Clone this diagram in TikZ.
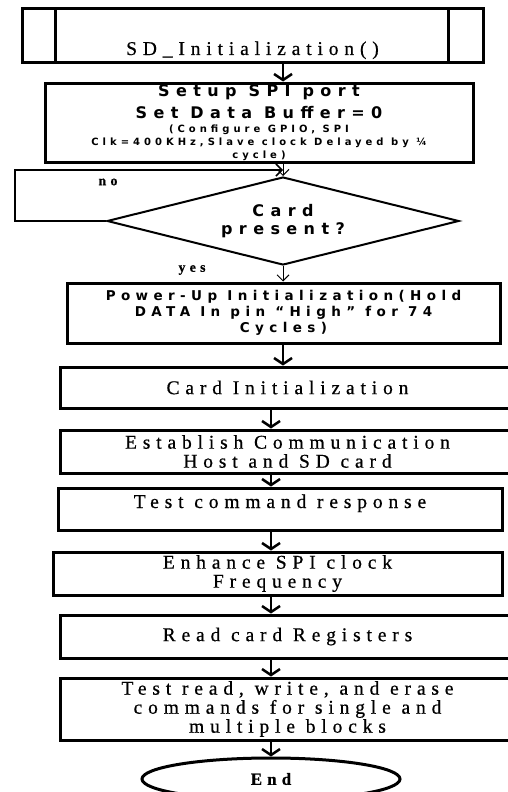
\documentclass[tikz,border=0pt]{standalone}
\usepackage{fontspec}
\setmainfont{Liberation Serif}
\newfontfamily\boxsans[LetterSpace=40]{DejaVu Sans}
\newfontfamily\boxserif[LetterSpace=30,FakeBold=0.6]{Liberation Serif}
\newcommand\finesans{\boxsans\bfseries\fontsize{10}{12}\selectfont}
\newcommand\bigsans{\boxsans\bfseries\fontsize{16}{16}\selectfont}
\usetikzlibrary{shapes.geometric,arrows.meta,calc}

\begin{document}
\begin{tikzpicture}[x=1pt,y=-1pt,
    box/.style={rectangle,draw,line width=3pt,inner sep=0pt,align=center},
    serifbox/.style={box,font=\boxserif\fontsize{19.5}{19}\selectfont},
    sansbox/.style={box,font=\boxsans\bfseries\fontsize{13.5}{16}\selectfont},
    lbl/.style={font=\boxserif\bfseries\fontsize{14}{16}\selectfont},
    bigarrow/.style={line width=2.5pt,-{Straight Barb[length=6pt,width=18pt]}},
    thinarrow/.style={line width=1pt,-{Straight Barb[length=6pt,width=12pt]}}]

  \useasboundingbox (0,0) rectangle (507,792);

  % start block with double side bars
  \node[serifbox,minimum width=461pt,minimum height=54pt,text height=38pt,text depth=0pt] (start) at (252.5,36) {SD\_Initialization()};
  \draw[line width=3pt] ($(start.north west)+(35,0)$) -- ($(start.south west)+(35,0)$);
  \draw[line width=3pt] ($(start.north east)+(-36,0)$) -- ($(start.south east)+(-36,0)$);

  \node[sansbox,minimum width=428pt,minimum height=79pt] (setup) at (259,122.5)
    {{\bigsans Setup SPI port}\\[6pt]{\bigsans Set Data Buffer=0}\\[-2pt]{\finesans (Configure GPIO, SPI}\\[-3pt]{\finesans Clk=400KHz,Slave clock Delayed by ¼}\\[-3pt]{\finesans cycle)}};

  \node[diamond,aspect=4,draw,line width=2pt,minimum width=352pt,minimum height=88pt,inner sep=0pt,align=center,
    font=\boxsans\bfseries\fontsize{16}{18}\selectfont] (card) at (283,221) {Card\\present?};

  \node[sansbox,minimum width=433pt,minimum height=60pt] (power) at (283.5,313)
    {Power-Up Initialization(Hold\\DATA In pin “High” for 74\\Cycles)};

  \node[serifbox,minimum width=455pt,minimum height=41pt] (cardinit) at (287.5,387.5) {Card Initialization};
  \node[serifbox,minimum width=455pt,minimum height=43pt] (comm) at (287.5,451.5) {Establish Communication\\Host and SD card};
  \node[serifbox,minimum width=444pt,minimum height=42pt,text height=13pt,text depth=15pt] (cmdtest) at (280,509) {Test command response};
  \node[serifbox,minimum width=449pt,minimum height=43pt] (clock) at (277.5,573.5) {Enhance SPI clock\\Frequency};
  \node[serifbox,minimum width=455pt,minimum height=43pt] (regs) at (287.5,636.5) {Read card Registers};
  \node[serifbox,minimum width=455pt,minimum height=62pt] (rwtest) at (287.5,709)
    {Test read, write, and erase\\commands for single and\\multiple blocks};
  \node[ellipse,draw,line width=3pt,minimum width=258pt,minimum height=42pt,
    font=\boxserif\bfseries\fontsize{17}{18}\selectfont] (stop) at (271,779) {End};

  % labels of the decision
  \node[lbl] (no) at (108,182) {no};
  \node[lbl] (yes) at (192,270) {yes};
  \coordinate (looptop) at (15,170);

  % connectors
  \draw[bigarrow] (start.south -| card.north) -- (setup.north -| card.north);
  \draw[thinarrow] (setup.south -| card.north) -- (card.north);
  \draw[line width=1.5pt,-{Straight Barb[length=6pt,width=12pt]}] (card.west) -| (looptop) -- (looptop -| card.north);
  \draw[thinarrow] (card.south) -- (power.north -| card.south);
  \draw[bigarrow] (power.south -| card.north) -- (cardinit.north -| card.north);
  \draw[bigarrow] (cardinit.south -| stop.north) -- (comm.north -| stop.north);
  \draw[bigarrow] (comm.south -| stop.north) -- (cmdtest.north -| stop.north);
  \draw[bigarrow] (cmdtest.south -| stop.north) -- (clock.north -| stop.north);
  \draw[bigarrow] (clock.south -| stop.north) -- (regs.north -| stop.north);
  \draw[bigarrow] (regs.south -| stop.north) -- (rwtest.north -| stop.north);
  \draw[bigarrow] (rwtest.south -| stop.north) -- (stop.north);
\end{tikzpicture}
\end{document}
